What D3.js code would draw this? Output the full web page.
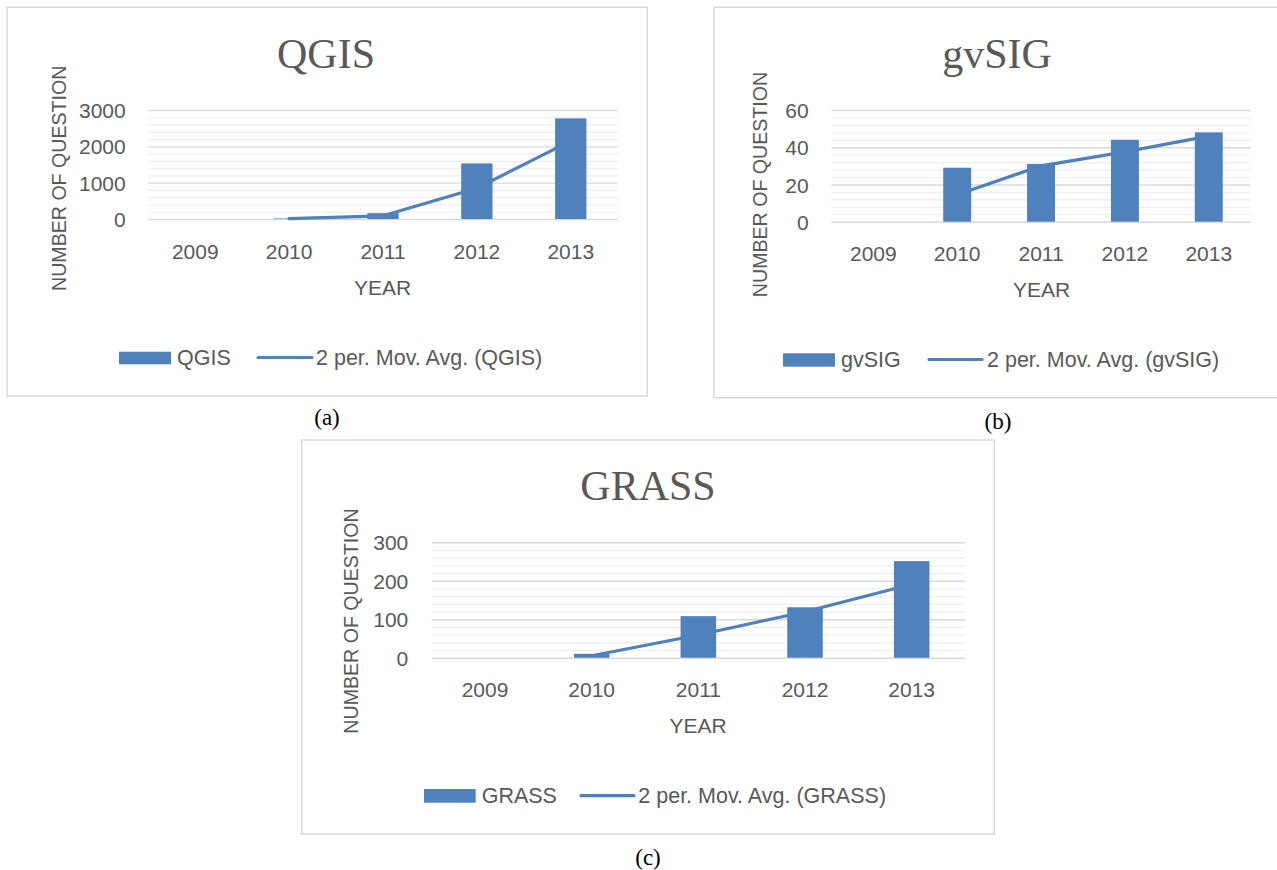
<!DOCTYPE html>
<html>
<head>
<meta charset="utf-8">
<script src="https://cdn.jsdelivr.net/npm/d3@7"></script>
<style>
  html, body { margin: 0; padding: 0; background: #ffffff; }
  svg { display: block; }
</style>
</head>
<body>
<svg id="fig" width="1277" height="870"></svg>
<script>
// Yearly question counts per GIS package, with their 2-period moving averages
const years = ["2009", "2010", "2011", "2012", "2013"];

const qgisCounts = [0, 15, 160, 1530, 2770];
const qgisMovAvg = [null, 8, 88, 845, 2150];
const qgisTicks = [0, 1000, 2000, 3000];

const gvsigCounts = [0, 29, 31, 44, 48];
const gvsigMovAvg = [null, 14.5, 30, 37.5, 46];
const gvsigTicks = [0, 20, 40, 60];

const grassCounts = [0, 10, 108, 131, 251];
const grassMovAvg = [null, 5, 59, 119.5, 191];
const grassTicks = [0, 100, 200, 300];

const BLUE = "#4f81bd";
const TEXT = "#595959";
const SANS = "'Liberation Sans', Arial, sans-serif";
const SERIF = "'Liberation Serif', 'Times New Roman', serif";

const svg = d3.select("#fig");
svg.append("rect").attr("width", 1277).attr("height", 870).attr("fill", "#ffffff");

function drawPanel(p) {
  const g = svg.append("g");

  // chart frame
  g.append("rect")
    .attr("x", p.frame[0]).attr("y", p.frame[1])
    .attr("width", p.frame[2] - p.frame[0]).attr("height", p.frame[3] - p.frame[1])
    .attr("fill", "#ffffff").attr("stroke", "#d9d9d9").attr("stroke-width", 1.5);

  const [x0, y0, x1, y1] = p.plot;
  const x = d3.scaleBand().domain(p.categories).range([x0, x1])
    .paddingInner(2 / 3).paddingOuter(1 / 3);
  const xc = d3.scaleBand().domain(p.categories).range([x0, x1]).padding(0);
  const y = d3.scaleLinear().domain([0, d3.max(p.ticks)]).range([y1, y0]);

  // minor gridlines
  const step = p.ticks[1] - p.ticks[0];
  const minor = d3.range(0, d3.max(p.ticks), step / 5).filter(v => v % step !== 0);
  g.append("g").attr("transform", `translate(${x0},0)`)
    .call(d3.axisLeft(y).tickValues(minor).tickSize(-(x1 - x0)).tickFormat(""))
    .call(s => s.select(".domain").remove())
    .call(s => s.selectAll("line").attr("stroke", "#eeeeee").attr("stroke-width", 1.2));

  // major gridlines
  g.append("g").attr("transform", `translate(${x0},0)`)
    .call(d3.axisLeft(y).tickValues(p.ticks).tickSize(-(x1 - x0)).tickFormat(""))
    .call(s => s.select(".domain").remove())
    .call(s => s.selectAll("line").attr("stroke", "#d9d9d9").attr("stroke-width", 1.4));

  // y tick labels
  g.append("g").attr("transform", `translate(${p.tickRight},0)`)
    .call(d3.axisLeft(y).tickValues(p.ticks).tickSize(0).tickPadding(0).tickFormat(d3.format("d")))
    .call(s => s.select(".domain").remove())
    .call(s => s.selectAll("text")
      .attr("fill", TEXT).style("font-family", SANS).style("font-size", "21px")
      .attr("dy", "0.36em"));

  // x category labels
  g.append("g").attr("transform", `translate(0,${p.xLabelBase})`)
    .call(d3.axisBottom(xc).tickSize(0).tickPadding(0))
    .call(s => s.select(".domain").remove())
    .call(s => s.selectAll("text")
      .attr("fill", TEXT).style("font-family", SANS).style("font-size", "21px")
      .attr("dy", 0).attr("y", 0));

  // moving-average trendline, drawn beneath the bars
  const pts = p.categories.map((c, i) => ({ c, v: p.avg[i] }));
  g.append("path")
    .datum(pts)
    .attr("fill", "none").attr("stroke", BLUE).attr("stroke-width", 3.2)
    .attr("stroke-linecap", "round").attr("stroke-linejoin", "round")
    .attr("d", d3.line().defined(d => d.v != null)
      .x(d => xc(d.c) + xc.bandwidth() / 2).y(d => y(d.v)));

  // bars
  g.selectAll("rect.bar")
    .data(p.categories.map((c, i) => ({ c, v: p.values[i] })))
    .join("rect").attr("class", "bar")
    .attr("x", d => x(d.c)).attr("width", x.bandwidth())
    .attr("y", d => y(d.v)).attr("height", d => y(0) - y(d.v))
    .attr("fill", BLUE);

  // chart title
  g.append("text").text(p.title)
    .attr("x", p.titlePos[0]).attr("y", p.titlePos[1]).attr("text-anchor", "middle")
    .attr("fill", TEXT).style("font-family", SERIF).style("font-size", "42px");

  // axis titles
  g.append("text").text("NUMBER OF QUESTION")
    .attr("transform", `translate(${p.yTitle[0]},${p.yTitle[1]}) rotate(-90)`)
    .attr("text-anchor", "middle").attr("dy", "0.36em")
    .attr("fill", TEXT).style("font-family", SANS).style("font-size", "19.6px");
  g.append("text").text("YEAR")
    .attr("x", p.xTitle[0]).attr("y", p.xTitle[1]).attr("text-anchor", "middle")
    .attr("fill", TEXT).style("font-family", SANS).style("font-size", "21px");

  // legend
  const L = p.legend;
  g.append("rect").attr("x", L.rect[0]).attr("y", L.rect[1])
    .attr("width", L.rect[2] - L.rect[0]).attr("height", L.rect[3] - L.rect[1]).attr("fill", BLUE);
  g.append("text").text(p.title).attr("x", L.t1).attr("y", L.base)
    .attr("fill", TEXT).style("font-family", SANS).style("font-size", "21.5px");
  g.append("line").attr("x1", L.line[0]).attr("x2", L.line[1])
    .attr("y1", L.line[2]).attr("y2", L.line[2])
    .attr("stroke", BLUE).attr("stroke-width", 3.2).attr("stroke-linecap", "round");
  g.append("text").text(`2 per. Mov. Avg. (${p.title})`).attr("x", L.t2).attr("y", L.base)
    .attr("fill", TEXT).style("font-family", SANS).style("font-size", "21.5px");

  // panel caption
  svg.append("text").text(p.caption)
    .attr("x", p.captionPos[0]).attr("y", p.captionPos[1]).attr("text-anchor", "middle")
    .attr("fill", "#000000").style("font-family", SERIF).style("font-size", "23px");
}

drawPanel({
  title: "QGIS", categories: years, values: qgisCounts, avg: qgisMovAvg, ticks: qgisTicks,
  frame: [7, 7.3, 647.3, 396],
  plot: [148.3, 110, 617.7, 219],
  tickRight: 125.7, xLabelBase: 258.5,
  titlePos: [326, 68.3], yTitle: [59, 178.3], xTitle: [382.7, 295],
  legend: { rect: [119, 351.7, 171, 364.3], t1: 177, line: [258, 312, 357.5], t2: 316, base: 365 },
  caption: "(a)", captionPos: [327, 425]
});

drawPanel({
  title: "gvSIG", categories: years, values: gvsigCounts, avg: gvsigMovAvg, ticks: gvsigTicks,
  frame: [714, 7.3, 1300, 397.7],
  plot: [831.4, 110, 1250.7, 221.7],
  tickRight: 808.6, xLabelBase: 260.7,
  titlePos: [997, 68.3], yTitle: [759.5, 184.5], xTitle: [1041.5, 296.7],
  legend: { rect: [783, 353.3, 835, 366.7], t1: 841, line: [929, 982, 359.5], t2: 987, base: 367 },
  caption: "(b)", captionPos: [998, 429]
});

drawPanel({
  title: "GRASS", categories: years, values: grassCounts, avg: grassMovAvg, ticks: grassTicks,
  frame: [301.7, 440, 994.3, 834],
  plot: [431.7, 542.3, 965, 657.7],
  tickRight: 408.3, xLabelBase: 696.7,
  titlePos: [648, 500], yTitle: [350.5, 621], xTitle: [698, 733],
  legend: { rect: [424, 789, 475.7, 802.7], t1: 481.7, line: [581, 634, 795.7], t2: 638.3, base: 803 },
  caption: "(c)", captionPos: [648, 865]
});
</script>
</body>
</html>
